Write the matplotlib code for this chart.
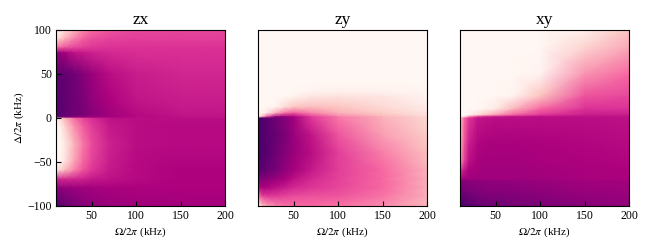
import numpy as np
import matplotlib
matplotlib.use("Agg")
import matplotlib.pyplot as plt

plt.rcParams["font.family"] = "Liberation Serif"
plt.rcParams["mathtext.fontset"] = "stix"

# colour values, rows are detuning, columns are rabi
omega = [10, 15, 20, 30, 40, 50, 70, 100, 150, 200]
delta_zx = [100, 90, 80, 74, 50, 20, 3, 0.5, -1, -10, -30, -50, -60, -70, -80, -100]
zx = [
    [0.00, 0.05, 0.15, 0.30, 0.42, 0.50, 0.55, 0.58, 0.58, 0.58],
    [0.15, 0.22, 0.32, 0.44, 0.52, 0.56, 0.59, 0.60, 0.60, 0.60],
    [0.50, 0.52, 0.55, 0.58, 0.60, 0.62, 0.63, 0.63, 0.63, 0.63],
    [0.80, 0.80, 0.77, 0.71, 0.69, 0.67, 0.65, 0.64, 0.64, 0.64],
    [0.94, 0.94, 0.93, 0.90, 0.85, 0.80, 0.72, 0.68, 0.66, 0.66],
    [0.95, 0.95, 0.93, 0.90, 0.87, 0.82, 0.75, 0.70, 0.68, 0.68],
    [0.97, 0.96, 0.93, 0.90, 0.88, 0.84, 0.78, 0.73, 0.70, 0.70],
    [0.92, 0.90, 0.87, 0.83, 0.80, 0.78, 0.76, 0.73, 0.71, 0.70],
    [0.05, 0.15, 0.30, 0.48, 0.58, 0.64, 0.71, 0.72, 0.72, 0.72],
    [0.00, 0.05, 0.18, 0.40, 0.52, 0.60, 0.69, 0.72, 0.73, 0.73],
    [0.00, 0.00, 0.08, 0.30, 0.46, 0.57, 0.67, 0.72, 0.73, 0.73],
    [0.00, 0.02, 0.12, 0.35, 0.50, 0.59, 0.68, 0.73, 0.74, 0.74],
    [0.10, 0.20, 0.30, 0.44, 0.55, 0.62, 0.69, 0.73, 0.75, 0.75],
    [0.65, 0.65, 0.65, 0.66, 0.67, 0.69, 0.71, 0.73, 0.75, 0.75],
    [0.82, 0.82, 0.81, 0.79, 0.78, 0.77, 0.76, 0.75, 0.75, 0.75],
    [0.97, 0.95, 0.92, 0.88, 0.85, 0.83, 0.80, 0.78, 0.77, 0.77],
]
delta_zy = [100, 40, 30, 24, 12, 5, 1, -0.5, -20, -40, -60, -70, -80, -90, -100]
zy = [
    [0.00, 0.00, 0.00, 0.00, 0.00, 0.00, 0.00, 0.00, 0.00, 0.00],
    [0.00, 0.00, 0.00, 0.00, 0.00, 0.00, 0.00, 0.00, 0.00, 0.00],
    [0.00, 0.00, 0.00, 0.00, 0.00, 0.00, 0.02, 0.04, 0.03, 0.01],
    [0.00, 0.00, 0.00, 0.00, 0.01, 0.03, 0.10, 0.12, 0.10, 0.02],
    [0.00, 0.00, 0.00, 0.03, 0.15, 0.25, 0.28, 0.25, 0.16, 0.07],
    [0.00, 0.02, 0.10, 0.35, 0.50, 0.55, 0.45, 0.33, 0.22, 0.10],
    [0.00, 0.30, 0.55, 0.80, 0.80, 0.75, 0.60, 0.45, 0.30, 0.15],
    [1.00, 0.98, 0.95, 0.90, 0.85, 0.78, 0.62, 0.47, 0.32, 0.17],
    [1.00, 0.98, 0.95, 0.92, 0.87, 0.80, 0.70, 0.55, 0.38, 0.22],
    [1.00, 0.98, 0.96, 0.90, 0.85, 0.80, 0.72, 0.60, 0.45, 0.27],
    [0.95, 0.95, 0.92, 0.88, 0.82, 0.77, 0.69, 0.60, 0.50, 0.32],
    [0.85, 0.85, 0.83, 0.80, 0.76, 0.71, 0.65, 0.59, 0.50, 0.33],
    [0.72, 0.75, 0.74, 0.71, 0.68, 0.65, 0.62, 0.58, 0.50, 0.33],
    [0.45, 0.58, 0.60, 0.60, 0.58, 0.56, 0.55, 0.54, 0.47, 0.33],
    [0.08, 0.28, 0.38, 0.45, 0.48, 0.50, 0.50, 0.48, 0.42, 0.30],
]
delta_xy = [100, 80, 50, 25, 10, 3, 1, -0.5, -30, -50, -60, -70, -72, -85, -100]
xy = [
    [0.00, 0.00, 0.00, 0.00, 0.00, 0.00, 0.00, 0.00, 0.05, 0.25],
    [0.00, 0.00, 0.00, 0.00, 0.00, 0.00, 0.00, 0.00, 0.18, 0.35],
    [0.00, 0.00, 0.00, 0.00, 0.00, 0.00, 0.00, 0.02, 0.40, 0.50],
    [0.00, 0.00, 0.00, 0.00, 0.00, 0.00, 0.02, 0.25, 0.55, 0.58],
    [0.00, 0.00, 0.00, 0.00, 0.03, 0.08, 0.30, 0.50, 0.63, 0.63],
    [0.00, 0.00, 0.02, 0.15, 0.28, 0.38, 0.52, 0.62, 0.68, 0.68],
    [0.00, 0.10, 0.40, 0.60, 0.65, 0.68, 0.70, 0.71, 0.71, 0.70],
    [0.25, 0.50, 0.62, 0.70, 0.71, 0.72, 0.72, 0.72, 0.72, 0.71],
    [0.30, 0.55, 0.68, 0.74, 0.75, 0.76, 0.76, 0.75, 0.74, 0.73],
    [0.40, 0.60, 0.72, 0.76, 0.77, 0.77, 0.77, 0.76, 0.75, 0.74],
    [0.62, 0.70, 0.75, 0.77, 0.78, 0.78, 0.78, 0.77, 0.76, 0.75],
    [0.76, 0.77, 0.78, 0.78, 0.78, 0.78, 0.78, 0.78, 0.76, 0.75],
    [0.84, 0.84, 0.83, 0.83, 0.82, 0.82, 0.81, 0.80, 0.78, 0.77],
    [0.90, 0.89, 0.88, 0.86, 0.85, 0.85, 0.84, 0.83, 0.80, 0.79],
    [1.00, 0.98, 0.95, 0.92, 0.91, 0.90, 0.89, 0.87, 0.84, 0.82],
]

titles = ["zx", "zy", "xy"]
deltas = [delta_zx, delta_zy, delta_xy]
grids = [zx, zy, xy]
lefts = [56, 258, 460]

W, H = 648, 247
fig = plt.figure(figsize=(W / 100, H / 100), dpi=100)

for i in range(3):
    ax = fig.add_axes([lefts[i] / W, (H - 205.5) / H, 169 / W, 175.5 / H])
    ax.pcolormesh(omega, deltas[i], np.array(grids[i]), cmap="RdPu", vmin=0, vmax=1,
                  shading="gouraud", rasterized=True)
    ax.set_xlim(10, 200)
    ax.set_ylim(-100, 100)
    ax.set_xticks([50, 100, 150, 200])
    ax.set_yticks([-100, -50, 0, 50, 100])
    ax.tick_params(direction="in", length=3.5, width=0.8, labelsize=8.5, pad=3)
    ax.set_title(titles[i], fontsize=12.5, pad=4)
    ax.set_xlabel(r"$\Omega/2\pi$ (kHz)", fontsize=8, labelpad=3)
    if i == 0:
        ax.set_ylabel(r"$\Delta/2\pi$ (kHz)", fontsize=8, labelpad=1)
    else:
        ax.tick_params(left=False, labelleft=False)

fig.savefig("out.png", dpi=100)
